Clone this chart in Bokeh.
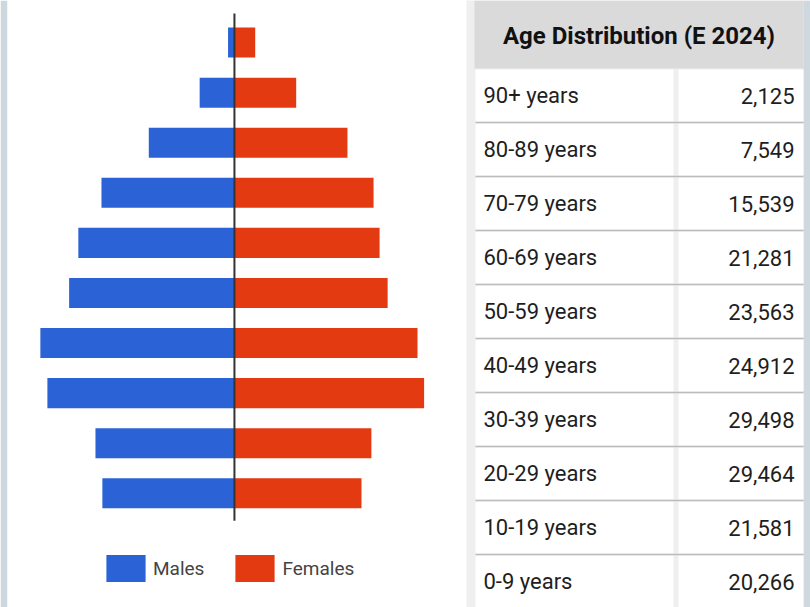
from bokeh.plotting import figure
from bokeh.layouts import row
from bokeh.models import Range1d, ColumnDataSource
from bokeh.core.properties import value
from bokeh.embed import file_html
from bokeh.resources import INLINE

# Age groups, oldest at top
ages = ["90+ years", "80-89 years", "70-79 years", "60-69 years", "50-59 years",
        "40-49 years", "30-39 years", "20-29 years", "10-19 years", "0-9 years"]
males = [500, 2720, 6700, 10400, 12210, 12930, 15180, 14630, 10870, 10330]
females = [1625, 4829, 8839, 10881, 11353, 11982, 14318, 14834, 10711, 9936]
totals = [2125, 7549, 15539, 21281, 23563, 24912, 29498, 29464, 21581, 20266]
title = "Age Distribution (E 2024)"
series_names = ["Males", "Females"]

BLUE = "#2b62d6"
RED = "#e33a12"
FONT = "Roboto"
H = 607

# ---------------- population pyramid ----------------
pyr = figure(width=466, height=H, output_backend="svg", toolbar_location=None,
             x_range=Range1d(-17750, 18150), y_range=Range1d(11.28, -0.84),
             min_border_left=7, min_border_right=0, min_border_top=0, min_border_bottom=0)
pyr.border_fill_color = "#cdd7de"
pyr.background_fill_color = "white"
pyr.outline_line_color = None
pyr.axis.visible = False
pyr.grid.visible = False

idx = list(range(len(ages)))
src = ColumnDataSource(dict(y=idx, male_left=[-m for m in males], female=females))
pyr.hbar(y="y", left="male_left", right=0, height=0.6, source=src,
         fill_color=BLUE, line_color=None, legend_label=series_names[0])
pyr.hbar(y="y", left=0, right="female", height=0.6, source=src,
         fill_color=RED, line_color=None, legend_label=series_names[1])
# centre axis line
pyr.segment(x0=[0], y0=[-0.58], x1=[0], y1=[9.55], line_color="#333333", line_width=2)

lg = pyr.legend[0]
lg.orientation = "horizontal"
lg.location = (94, 22)
lg.glyph_width = 49
lg.glyph_height = 34
lg.label_text_font = FONT
lg.label_text_font_size = "19px"
lg.label_text_color = "#444444"
lg.label_standoff = 3
lg.spacing = 26
lg.padding = 0
lg.margin = 0
lg.border_line_color = None
lg.background_fill_alpha = 0
lg.label_height = 34

# ---------------- table ----------------
tab = figure(width=344, height=H, output_backend="svg", toolbar_location=None,
             x_range=Range1d(466, 810), y_range=Range1d(H, 0),
             min_border_left=0, min_border_right=0, min_border_top=0, min_border_bottom=0)
tab.background_fill_color = "#efefef"
tab.border_fill_color = "#efefef"
tab.outline_line_color = None
tab.axis.visible = False
tab.grid.visible = False

TL, TR, DIV = 474, 803, 675
HEAD = 68
ROW_H = 54

tab.quad(left=[TR], right=[810], top=[0], bottom=[H], fill_color="#cdd8df", line_color=None)
tab.quad(left=[TL], right=[TR], top=[0], bottom=[HEAD], fill_color="#dadada", line_color=None)
tab.text(x=[(TL + TR) / 2], y=[HEAD / 2 + 1], text=[title], text_font=value(FONT),
         text_font_style="bold", text_font_size="24px", text_color="#111111",
         text_align="center", text_baseline="middle")

n = len(ages)
tops = [HEAD + ROW_H * i + 1 for i in range(n)]
bots = [HEAD + ROW_H * (i + 1) - 1 for i in range(n)]
mids = [HEAD + ROW_H * i + ROW_H / 2 for i in range(n)]
tab.quad(left=[TL + 1] * n, right=[DIV - 2] * n, top=tops, bottom=bots,
         fill_color="white", line_color=None)
tab.quad(left=[DIV + 3] * n, right=[TR] * n, top=tops, bottom=bots,
         fill_color="white", line_color=None)
lines_y = [HEAD + ROW_H * i for i in range(1, n)]
tab.segment(x0=[TL + 1] * len(lines_y), y0=lines_y, x1=[TR] * len(lines_y), y1=lines_y,
            line_color="#bcbcbc", line_width=1.5)

tab.text(x=[483] * n, y=mids, text=ages, text_font=value(FONT), text_font_size="22px",
         text_color="#1e1e1e", text_align="left", text_baseline="middle")
tab.text(x=[794] * n, y=mids, text=[f"{t:,}" for t in totals], text_font=value(FONT),
         text_font_size="22px", text_color="#1e1e1e", text_align="right",
         text_baseline="middle")

layout = row(pyr, tab, spacing=0)
open("out.html", "w").write(file_html(layout, INLINE))
